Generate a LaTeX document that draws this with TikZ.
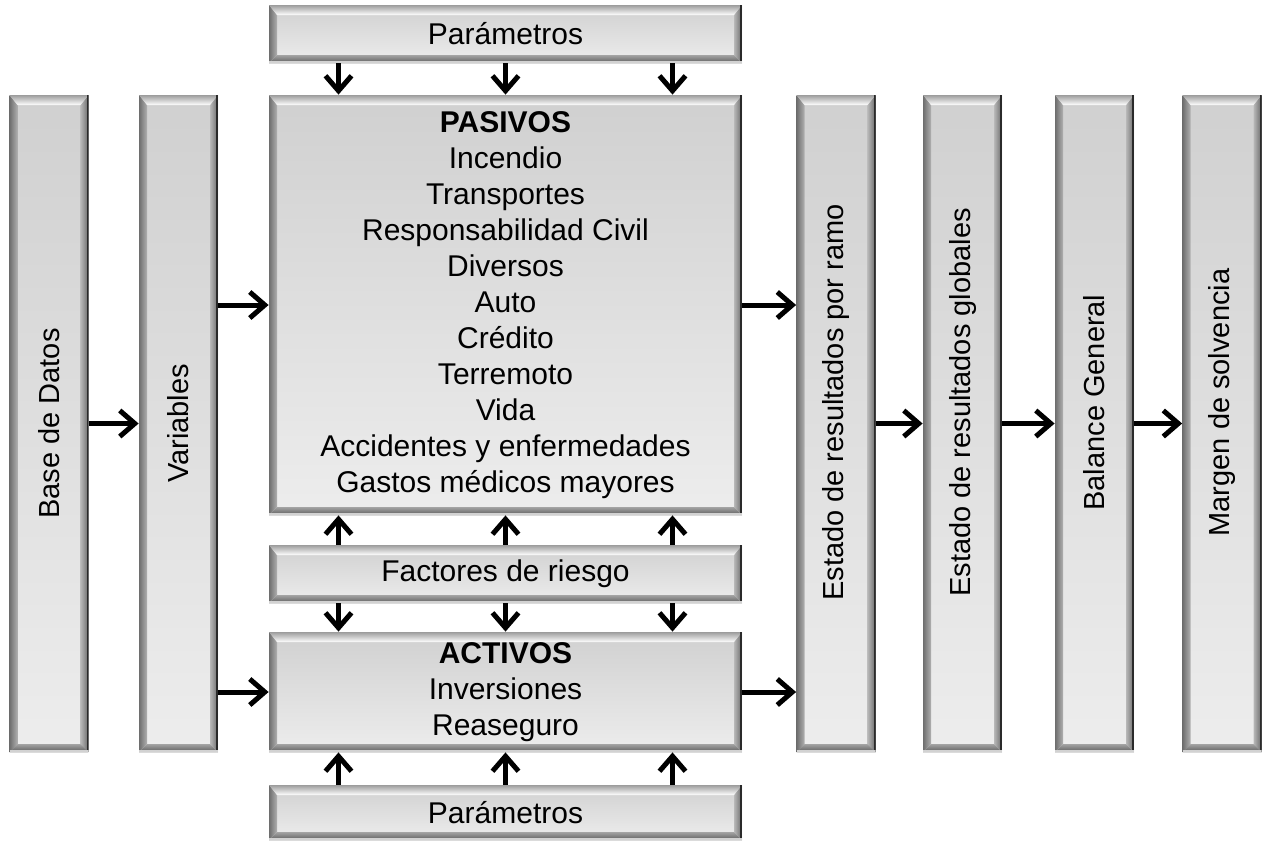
\documentclass[tikz,border=0pt]{standalone}
\usepackage{fontspec}
\setmainfont{Liberation Sans}
\usetikzlibrary{arrows.meta,calc}

\definecolor{boxtop}{HTML}{D0D0D0}
\definecolor{boxbot}{HTML}{EDEDED}
\definecolor{bevL}{HTML}{6E6E6E}
\definecolor{bevLi}{HTML}{B0B0B0}
\definecolor{bevR}{HTML}{6A6A6A}
\definecolor{bevRi}{HTML}{B8B8B8}
\definecolor{bevT}{HTML}{9C9C9C}
\definecolor{bevB}{HTML}{5E5E5E}
\definecolor{bevBi}{HTML}{A4A4A4}
\definecolor{edgedark}{HTML}{2A2A2A}

\tikzset{
  bevel/.style={
    draw=none, top color=boxtop, bottom color=boxbot, inner sep=0pt,
    font=\fontsize{15}{18}\selectfont, align=center,
    path picture={
      \path (path picture bounding box.north west) coordinate (bnw)
            (path picture bounding box.north east) coordinate (bne)
            (path picture bounding box.south west) coordinate (bsw)
            (path picture bounding box.south east) coordinate (bse);
      % left and right edges
      \shade[left color=bevL, right color=bevLi] (bnw) -- ([shift={(4pt,-5pt)}]bnw) -- ([shift={(4pt,4pt)}]bsw) -- (bsw) -- cycle;
      \shade[left color=bevRi, right color=bevR] (bne) -- ([shift={(-4pt,-5pt)}]bne) -- ([shift={(-4pt,4pt)}]bse) -- (bse) -- cycle;
      % top and bottom edges
      \shade[top color=bevT, bottom color=white] (bnw) -- (bne) -- ([shift={(-4pt,-5pt)}]bne) -- ([shift={(4pt,-5pt)}]bnw) -- cycle;
      \shade[top color=bevBi, bottom color=bevB] (bsw) -- (bse) -- ([shift={(-4pt,4pt)}]bse) -- ([shift={(4pt,4pt)}]bsw) -- cycle;
      \draw[line width=1pt, edgedark] ([xshift=-0.5pt]bne) -- ([xshift=-0.5pt]bse);
      \draw[line width=1pt, gray!35] ([yshift=0.5pt]bsw) -- ([yshift=0.5pt]bse);
    }},
  vbox/.style={bevel, minimum width=39.5pt, minimum height=328.5pt},
  hbox/.style={bevel, minimum width=236.5pt},
  vtext/.style={rotate=90, font=\fontsize{14.5}{18}\selectfont, inner sep=0pt},
  conn/.style={line width=2.5pt, -{Straight Barb[length=7.5pt,width=13pt,line width=2.5pt]}}
}

\begin{document}
\begin{tikzpicture}[x=0.5pt, y=-0.5pt]
    \useasboundingbox (0,0) rectangle (1264,843);

    % Left columns
    \node[vbox] (base) at (49,423.5) {};
    \node[vbox] (vars) at (178.5,423.5) {};
    \node[vtext] (base-t) at (base.center) {Base de Datos};
    \node[vtext] (vars-t) at (vars.center) {Variables};

    % Middle blocks
    \node[hbox, minimum height=29pt] (partop) at (505.5,34) {Parámetros};
    \node[hbox, minimum height=210pt] (pasivos) at (505.5,305) {\textbf{PASIVOS}\\Incendio\\Transportes\\Responsabilidad Civil\\Diversos\\Auto\\Crédito\\Terremoto\\Vida\\Accidentes y enfermedades\\Gastos médicos mayores};
    \node[hbox, minimum height=29pt] (factores) at (505.5,574) {Factores de riesgo};
    \node[hbox, minimum height=60pt] (activos) at (505.5,692) {\textbf{ACTIVOS}\\Inversiones\\Reaseguro};
    \node[hbox, minimum height=27.5pt] (parbot) at (505.5,812.5) {Parámetros};

    % Right columns
    \node[vbox] (ramo) at (836,423.5) {};
    \node[vbox] (glob) at (962.5,423.5) {};
    \node[vbox] (bal) at (1094.5,423.5) {};
    \node[vbox] (marg) at (1222,423.5) {};
    \node[vtext] (ramo-t) at ([yshift=10.5pt]ramo.center) {Estado de resultados por ramo};
    \node[vtext] (glob-t) at ([yshift=10.5pt]glob.center) {Estado de resultados globales};
    \node[vtext] (bal-t) at ([yshift=10.5pt]bal.center) {Balance General};
    \node[vtext] (marg-t) at ([yshift=10.5pt]marg.center) {Margen de solvencia};

    % Horizontal arrows
    \draw[conn] (base) -- (vars);
    \draw[conn] (vars.east |- pasivos.west) -- (pasivos.west);
    \draw[conn] (vars.east |- activos.west) -- (activos.west);
    \draw[conn] (pasivos.east) -- (pasivos.east -| ramo.west);
    \draw[conn] (activos.east) -- (activos.east -| ramo.west);
    \draw[conn] (ramo) -- (glob);
    \draw[conn] (glob) -- (bal);
    \draw[conn] (bal) -- (marg);

    % Vertical arrows
    \foreach \dx in {-167,0,167} {
      \draw[conn] ($(partop.south)+(\dx,0)$) -- ($(pasivos.north)+(\dx,0)$);
      \draw[conn] ($(factores.north)+(\dx,0)$) -- ($(pasivos.south)+(\dx,0)$);
      \draw[conn] ($(factores.south)+(\dx,0)$) -- ($(activos.north)+(\dx,0)$);
      \draw[conn] ($(parbot.north)+(\dx,0)$) -- ($(activos.south)+(\dx,0)$);
    }
\end{tikzpicture}
\end{document}
